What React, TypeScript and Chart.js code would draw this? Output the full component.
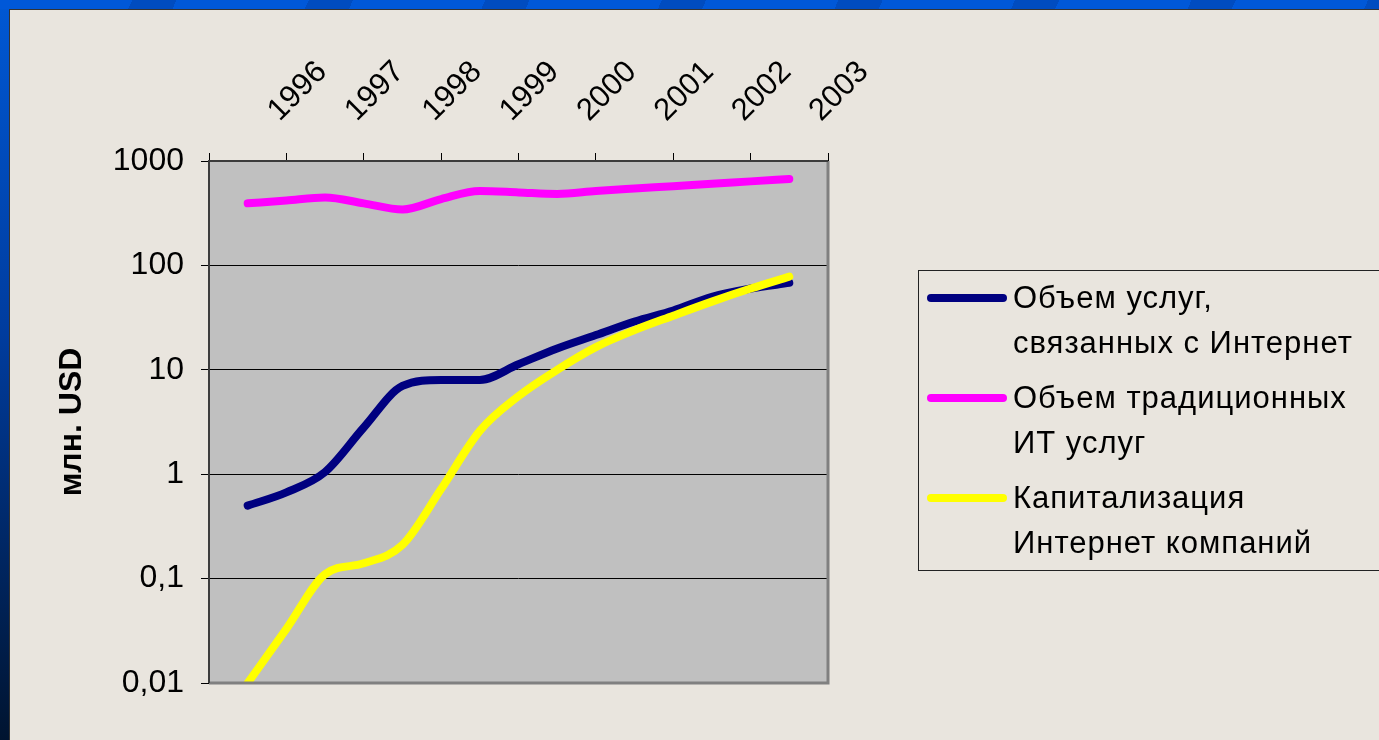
import React, { useEffect, useRef } from 'react';
import { Chart, registerables } from 'chart.js';

Chart.register(...registerables);

// ---- data ----
const categories = ['', '1996', '', '1997', '', '1998', '', '1999', '', '2000', '', '2001', '', '2002', '', '2003', ''];
const internetServices = [0.5, 0.67, 1.05, 2.8, 7, 8, 8, 11.3, 16, 21.5, 29, 37, 50, 60, 68];
const traditionalIT = [393, 419, 447, 393, 343, 432, 516, 500, 483, 516, 545, 574, 606, 638, 673];
const internetCapitalization = [0.01, 0.033, 0.11, 0.14, 0.21, 0.72, 2.6, 5.6, 10, 16.5, 24, 33, 45, 60, 78];
const seriesNames = [
  ['Объем услуг,', 'связанных с Интернет'],
  ['Объем традиционных', 'ИТ услуг'],
  ['Капитализация', 'Интернет компаний'],
];
const seriesColors = ['#000080', '#FF00FF', '#FFFF00'];
const yTickValues = [0.01, 0.1, 1, 10, 100, 1000];
const yTickLabels = ['0,01', '0,1', '1', '10', '100', '1000'];
const yAxisTitle = 'млн. USD';

const FONT = "'Liberation Sans', Arial, sans-serif";
const pad = (arr: number[]) => [null, ...arr, null];

const plotDecor = {
  id: 'plotDecor',
  beforeDraw(chart: any) {
    const { ctx, chartArea: a } = chart;
    ctx.save();
    ctx.fillStyle = '#C0C0C0';
    ctx.fillRect(a.left, a.top, a.right - a.left, a.bottom - a.top);
    ctx.restore();
  },
  afterDatasetsDraw(chart: any) {
    const { ctx, chartArea: a } = chart;
    ctx.save();
    ctx.lineCap = 'butt';
    ctx.strokeStyle = '#808080';
    ctx.lineWidth = 3;
    ctx.beginPath();
    ctx.moveTo(a.right, a.top);
    ctx.lineTo(a.right, a.bottom);
    ctx.lineTo(a.left, a.bottom);
    ctx.stroke();
    ctx.strokeStyle = '#3c3c3c';
    ctx.lineWidth = 2;
    ctx.beginPath();
    ctx.moveTo(a.left, a.bottom);
    ctx.lineTo(a.left, a.top);
    ctx.lineTo(a.right, a.top);
    ctx.stroke();
    ctx.restore();
  },
};

const legendPlugin = {
  id: 'boxLegend',
  afterDraw(chart: any) {
    const ctx = chart.ctx;
    ctx.save();
    ctx.strokeStyle = '#222';
    ctx.lineWidth = 1;
    ctx.strokeRect(908.5, 260.5, 600, 300);
    chart.data.datasets.forEach((ds: any, i: number) => {
      const y0 = 288 + i * 100;
      ctx.strokeStyle = ds.borderColor;
      ctx.lineWidth = 8;
      ctx.lineCap = 'round';
      ctx.beginPath();
      ctx.moveTo(921, y0);
      ctx.lineTo(993, y0);
      ctx.stroke();
      ctx.fillStyle = '#000';
      ctx.font = `31px ${FONT}`;
      ctx.textBaseline = 'middle';
      ctx.textAlign = 'left';
      try { (ctx as any).letterSpacing = '1px'; } catch (e) {}
      seriesNames[i].forEach((t, j) => ctx.fillText(t, 1003, y0 + 1 + j * 45));
      try { (ctx as any).letterSpacing = '0px'; } catch (e) {}
    });
    ctx.restore();
  },
};

function ChartView() {
  const ref = useRef<HTMLCanvasElement | null>(null);
  useEffect(() => {
    if (!ref.current) return;
    Chart.defaults.font.family = FONT;
    Chart.defaults.color = '#000';
    const lineDs = (label: string, data: number[], color: string, order: number) => ({
      label,
      data: pad(data),
      borderColor: color,
      backgroundColor: color,
      borderWidth: 8,
      borderCapStyle: 'round',
      borderJoinStyle: 'round',
      pointRadius: 0,
      cubicInterpolationMode: 'monotone',
      spanGaps: false,
      clip: 0,
      order,
    });
    const chart = new Chart(ref.current, {
      type: 'line',
      data: {
        labels: categories,
        datasets: [
          lineDs(seriesNames[0].join(' '), internetServices, seriesColors[0], 2),
          lineDs(seriesNames[1].join(' '), traditionalIT, seriesColors[1], 1),
          lineDs(seriesNames[2].join(' '), internetCapitalization, seriesColors[2], 0),
        ] as any,
      },
      options: {
        responsive: false,
        animation: false,
        events: [],
        layout: { padding: { left: 0, top: 0, right: 551, bottom: 57 } },
        plugins: { legend: { display: false }, tooltip: { enabled: false } },
        scales: {
          x: {
            type: 'category',
            position: 'top',
            offset: false,
            border: { display: false },
            grid: {
              drawOnChartArea: false,
              drawTicks: true,
              tickLength: 8,
              tickColor: (c: any) => (c.index % 2 === 0 ? '#000' : 'rgba(0,0,0,0)'),
            },
            ticks: {
              autoSkip: false,
              minRotation: 45,
              maxRotation: 45,
              labelOffset: 52,
              padding: 24,
              font: { size: 31 },
              color: '#000',
              callback: (_v: any, i: number) => categories[i],
            },
            afterFit: (s: any) => { s.height = 151; },
          },
          y: {
            type: 'logarithmic',
            min: 0.01,
            max: 1000,
            border: { display: false },
            grid: { color: '#000', lineWidth: 1, tickLength: 8, drawOnChartArea: true },
            afterBuildTicks: (s: any) => { s.ticks = yTickValues.map((v) => ({ value: v })); },
            ticks: {
              padding: 17,
              font: { size: 32 },
              color: '#000',
              callback: (_v: any, i: number) => yTickLabels[i],
            },
            title: {
              display: true,
              text: yAxisTitle,
              font: { size: 32, weight: 'bold' },
              color: '#000',
              padding: { top: 43, bottom: 0 },
            },
            afterFit: (s: any) => { s.width = 199; },
          },
        },
      } as any,
      plugins: [plotDecor, legendPlugin],
    });
    return () => chart.destroy();
  }, []);
  return <canvas ref={ref} width={1369} height={730} style={{ display: 'block', width: 1369, height: 730 }} />;
}

export default function App() {
  return (
    <div style={{ position: 'fixed', left: 0, top: 0, width: 1379, height: 740, overflow: 'hidden',
      background: 'linear-gradient(180deg, #0058d4 0%, #003c9e 45%, #001430 100%)' }}>
      <div style={{ position: 'absolute', left: 0, top: 0, width: 1379, height: 9,
        background: 'repeating-linear-gradient(115deg, #0058d8 0px, #0058d8 120px, #004cc0 120px, #004cc0 160px)' }} />
      <div style={{ position: 'absolute', left: 9, top: 9, width: 1370, height: 731, boxSizing: 'border-box',
        background: '#E9E5DE', borderTop: '1px solid #333', borderLeft: '1px solid #333' }}>
        <ChartView />
      </div>
    </div>
  );
}
